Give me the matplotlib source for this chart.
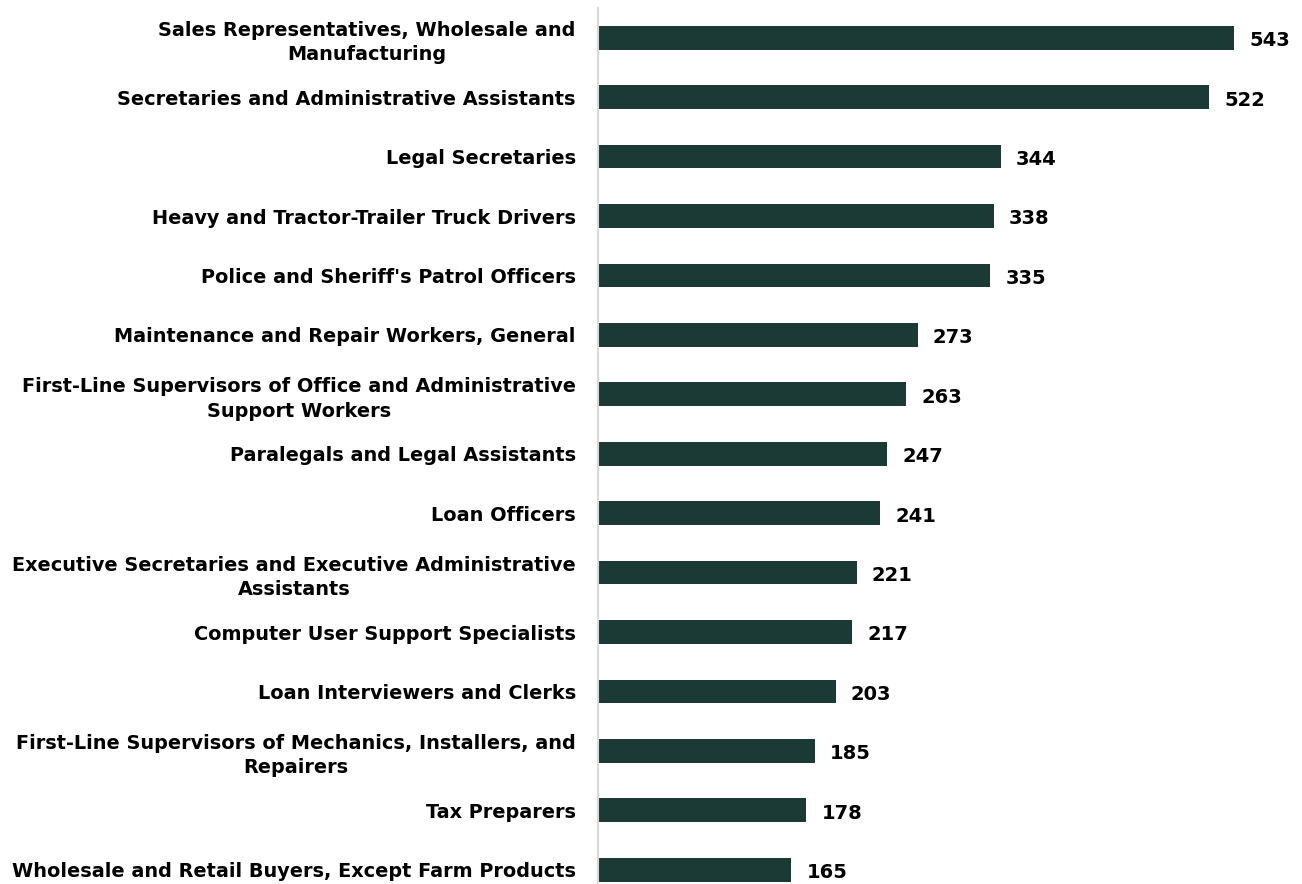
import matplotlib.pyplot as plt
import numpy as np

# occupations and counts, top to bottom
jobs = [
    "Sales Representatives, Wholesale and\nManufacturing",
    "Secretaries and Administrative Assistants",
    "Legal Secretaries",
    "Heavy and Tractor-Trailer Truck Drivers",
    "Police and Sheriff's Patrol Officers",
    "Maintenance and Repair Workers, General",
    "First-Line Supervisors of Office and Administrative\nSupport Workers",
    "Paralegals and Legal Assistants",
    "Loan Officers",
    "Executive Secretaries and Executive Administrative\nAssistants",
    "Computer User Support Specialists",
    "Loan Interviewers and Clerks",
    "First-Line Supervisors of Mechanics, Installers, and\nRepairers",
    "Tax Preparers",
    "Wholesale and Retail Buyers, Except Farm Products",
]
counts = [543, 522, 344, 338, 335, 273, 263, 247, 241, 221, 217, 203, 185, 178, 165]

W, H = 1302, 884
fig = plt.figure(figsize=(W / 100, H / 100), dpi=100)
ax = fig.add_axes([598 / W, 0, (1290 - 598) / W, (884 - 8) / H])

y = np.arange(len(jobs))
ax.barh(y, counts, height=0.4, color="#1c3a35")
for yi, v in zip(y, counts):
    ax.text(v + 13, yi + 0.05, str(v), va="center", ha="left",
            fontsize=14, fontweight="bold", color="black")

ax.set_xlim(0, 591)
ax.set_ylim(14.24, -0.5)
ax.set_yticks(y)
ax.set_yticklabels(jobs, fontsize=13.9, fontweight="bold")
for lab in ax.get_yticklabels():
    lab.set_multialignment("center")
    lab.set_linespacing(1.35)
ax.tick_params(axis="y", length=0, pad=16)
ax.tick_params(axis="x", bottom=False, labelbottom=False)
for s in ["top", "right", "bottom"]:
    ax.spines[s].set_visible(False)
ax.spines["left"].set_color("#d9d9d9")
ax.spines["left"].set_linewidth(1.5)

fig.savefig("out.png", dpi=100)
